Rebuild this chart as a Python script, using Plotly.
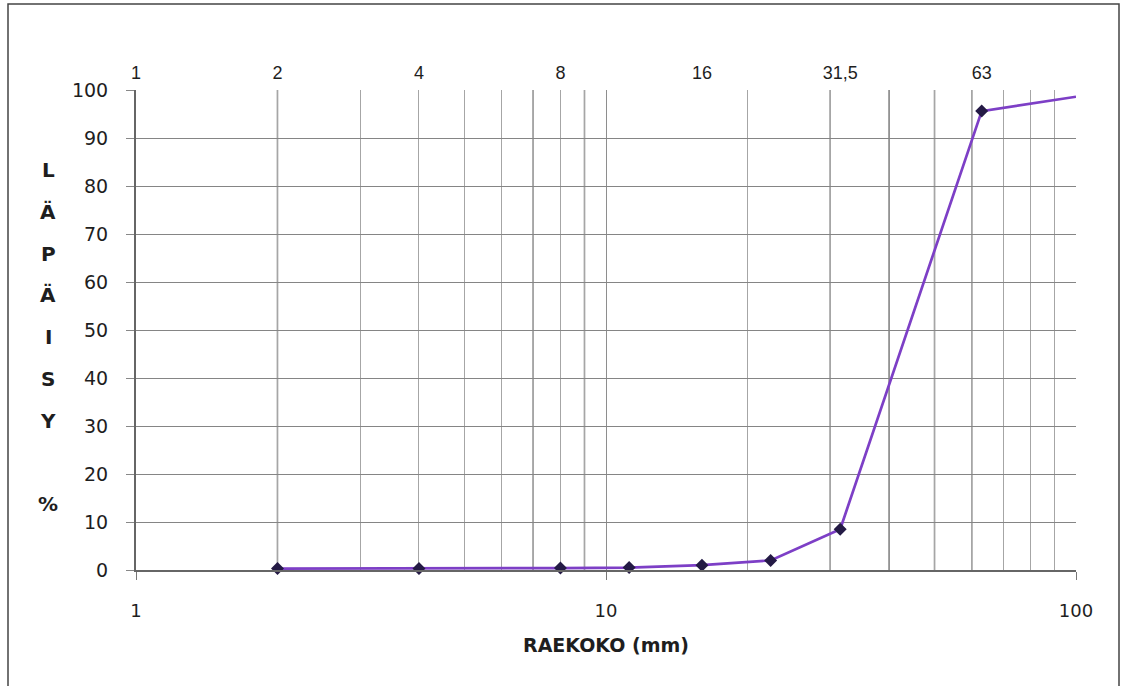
import plotly.graph_objects as go

# Sieve analysis: grain size (mm) vs. passing percentage
grain_mm = [2, 4, 8, 11.2, 16, 22.4, 31.5, 63, 100]
passing_pct = [0.3, 0.3, 0.4, 0.5, 1.0, 2.0, 8.5, 95.6, 98.6]
has_marker = [True, True, True, True, True, True, True, True, False]

# Sieve sizes printed along the top edge
sieve_vals = [1, 2, 4, 8, 16, 31.5, 63]
sieve_text = ["1", "2", "4", "8", "16", "31,5", "63"]

y_ticks = [0, 10, 20, 30, 40, 50, 60, 70, 80, 90, 100]
x_ticks = [1, 10, 100]
minor_vals = [2, 3, 4, 5, 6, 7, 8, 9, 20, 30, 40, 50, 60, 70, 80, 90]
heavy_vals = [2, 7, 9, 30, 40, 50, 60]

y_title_letters = ["L", "Ä", "P", "Ä", "I", "S", "Y", "", "%"]

FONT = "'DejaVu Sans', Verdana, sans-serif"
INK = "#1e1e1e"

fig = go.Figure()

fig.add_trace(go.Scatter(
    x=grain_mm, y=passing_pct,
    mode="lines+markers",
    line=dict(color="#7d3fc6", width=2.7),
    marker=dict(symbol="diamond", color="#241a45", opacity=1,
                size=[10 if m else 0 for m in has_marker],
                line=dict(width=0)),
    showlegend=False, cliponaxis=False,
))

# invisible trace that carries the top sieve-size axis
fig.add_trace(go.Scatter(
    x=sieve_vals, y=[None] * len(sieve_vals), xaxis="x2",
    mode="markers", showlegend=False, hoverinfo="skip",
))

# darker vertical rules
for v in heavy_vals:
    fig.add_shape(type="line", xref="x", yref="paper", x0=v, x1=v, y0=0, y1=1,
                  line=dict(color="#5e5e5e", width=1.4), layer="below")

fig.update_layout(
    width=1127, height=686,
    margin=dict(l=136, r=51, t=90, b=116),
    paper_bgcolor="white", plot_bgcolor="white",
    font=dict(family=FONT, color=INK),
    xaxis=dict(
        type="log", range=[0, 2],
        tickvals=x_ticks, ticktext=[str(v) for v in x_ticks],
        tickfont=dict(size=18), ticks="outside", ticklen=8, tickcolor="#777777",
        ticklabelstandoff=15,
        showgrid=True, gridcolor="#8e8e8e", gridwidth=1,
        showline=True, linecolor="#666666", linewidth=2,
        minor=dict(tickvals=minor_vals, showgrid=True, gridcolor="#a6a6a6",
                   gridwidth=1, ticks=""),
        title=dict(text="<b>RAEKOKO (mm)</b>", font=dict(size=19), standoff=19),
        zeroline=False,
    ),
    xaxis2=dict(
        type="log", range=[0, 2], overlaying="x", side="top",
        tickvals=sieve_vals, ticktext=sieve_text,
        tickfont=dict(size=18, family="'Liberation Sans', Arial, sans-serif"),
        ticklabelstandoff=6,
        ticks="", showgrid=False, showline=False, zeroline=False,
    ),
    yaxis=dict(
        range=[0, 100], tickvals=y_ticks,
        tickfont=dict(size=19), ticks="outside", ticklen=8, tickcolor="#888888",
        ticklabelstandoff=14,
        showgrid=True, gridcolor="#858585", gridwidth=1,
        showline=True, linecolor="#666666", linewidth=2,
        zeroline=False,
    ),
)

# stacked vertical y-axis title, one letter per row
row_px = 41.8
top_px = 170
for i, ch in enumerate(y_title_letters):
    if not ch:
        continue
    ypx = top_px + i * row_px
    fig.add_annotation(
        text=f"<b>{ch}</b>", xref="paper", yref="paper",
        x=(48 - 136) / 940, y=1 - (ypx - 90) / 480,
        showarrow=False, font=dict(size=20, family=FONT, color=INK),
        xanchor="center", yanchor="middle",
    )

# outer frame
fig.add_shape(type="rect", xref="paper", yref="paper",
              x0=(8 - 136) / 940, x1=(1119 - 136) / 940,
              y0=1 - (700 - 90) / 480, y1=1 - (4 - 90) / 480,
              line=dict(color="#444444", width=1.5), layer="below")

fig.write_html("out.html")
